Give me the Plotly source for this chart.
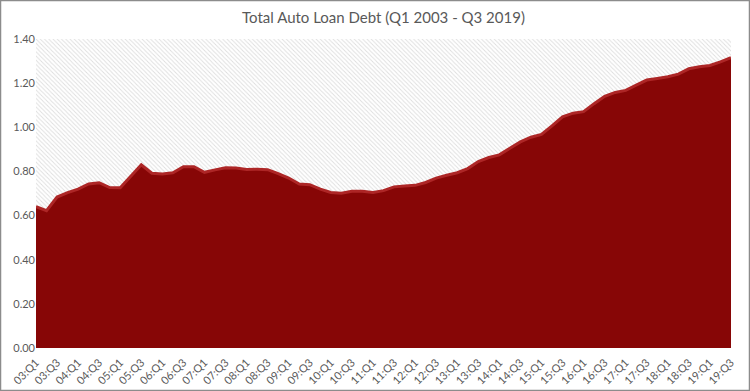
import plotly.graph_objects as go

# ---- data ----
quarters = [f"{y:02d}:Q{q}" for y in range(3, 20) for q in range(1, 5)][:67]
debt = [0.641, 0.622, 0.684, 0.704,
        0.720, 0.743, 0.749, 0.727,
        0.726, 0.776, 0.830, 0.792,
        0.788, 0.794, 0.821, 0.821,
        0.796, 0.807, 0.817, 0.815,
        0.809, 0.810, 0.808, 0.790,
        0.770, 0.743, 0.740, 0.720,
        0.705, 0.701, 0.710, 0.710,
        0.705, 0.713, 0.730, 0.734,
        0.737, 0.750, 0.770, 0.783,
        0.794, 0.813, 0.845, 0.863,
        0.875, 0.905, 0.934, 0.955,
        0.968, 1.006, 1.047, 1.064,
        1.071, 1.107, 1.140, 1.158,
        1.167, 1.191, 1.214, 1.221,
        1.229, 1.241, 1.265, 1.274,
        1.280, 1.296, 1.315]
tick_labels = quarters[::2]
y_ticks = [0.0, 0.2, 0.4, 0.6, 0.8, 1.0, 1.2, 1.4]
Y_MAX = 1.4

FONT = "Lato"
GREY = "#595959"

fig = go.Figure()

# debt area
fig.add_trace(go.Scatter(
    x=quarters, y=debt, mode="lines", fill="tozeroy",
    fillcolor="#870606", line=dict(color="#ad2626", width=3),
    hoverinfo="x+y", showlegend=False))

# hatched background above the area up to the axis maximum
fig.add_trace(go.Scatter(
    x=quarters, y=[Y_MAX] * len(quarters), mode="lines", fill="tonexty",
    fillcolor="rgba(0,0,0,0)", line=dict(width=0),
    fillpattern=dict(shape="\\", fgcolor="#bdbdbd", bgcolor="white",
                     size=3, solidity=0.3),
    hoverinfo="skip", showlegend=False))

L, R, T, B = 36, 19, 39, 43
W, H = 750 - L - R, 391 - T - B

fig.update_layout(
    width=750, height=391,
    margin=dict(l=L, r=R, t=T, b=B, autoexpand=False),
    paper_bgcolor="white", plot_bgcolor="white",
    title=dict(text="Total Auto Loan Debt (Q1 2003 - Q3 2019)",
               x=0.5, xref="paper", xanchor="center",
               y=1 - 18 / 391, yanchor="middle",
               font=dict(family=FONT, size=15, color=GREY)),
    xaxis=dict(type="category", range=[0, len(quarters) - 1],
               tickmode="array", tickvals=tick_labels, ticktext=tick_labels,
               tickangle=-45, showgrid=False, zeroline=False,
               showline=False, ticks="outside", ticklen=3,
               tickcolor="rgba(0,0,0,0)", automargin=False,
               tickfont=dict(family=FONT, size=11, color=GREY)),
    yaxis=dict(range=[0, Y_MAX], tickvals=y_ticks,
               ticktext=[f"{v:.2f}" for v in y_ticks],
               showgrid=False, zeroline=False, showline=False,
               automargin=False,
               tickfont=dict(family=FONT, size=11, color=GREY)),
    shapes=[dict(type="rect", xref="paper", yref="paper",
                 x0=(0.5 - L) / W, x1=(749.5 - L) / W,
                 y0=(391 - B - 390.5) / H, y1=(391 - B - 0.5) / H,
                 line=dict(color="#8c8c8c", width=1.5), layer="above")],
)

fig.write_html("out.html", config={"displayModeBar": False},
               post_script="document.body.style.margin='0';"
                           "document.body.style.overflow='hidden';")
